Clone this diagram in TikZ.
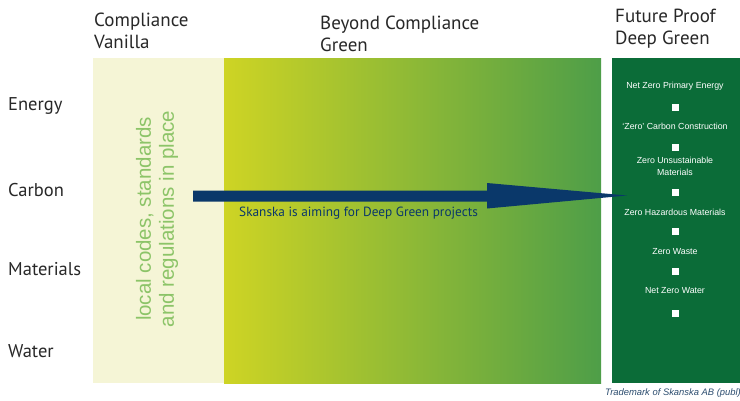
\documentclass[tikz,border=0pt]{standalone}
\usepackage{fontspec}
\setmainfont{PT Sans}
\newfontfamily\arialfont{Liberation Sans}
\definecolor{vanilla}{RGB}{245,245,214}
\definecolor{lime}{RGB}{206,212,36}
\definecolor{midgreen}{RGB}{78,158,72}
\definecolor{deepgreen}{RGB}{11,108,56}
\definecolor{navy}{RGB}{10,56,106}
\definecolor{codegreen}{RGB}{140,196,104}
\definecolor{labelgray}{RGB}{40,40,40}
\begin{document}
\begin{tikzpicture}[x=1pt,y=-1pt,
  heading/.style={anchor=west,inner sep=0pt,align=left,text=labelgray,
    font=\fontsize{19}{22}\selectfont},
  rowlabel/.style={anchor=west,inner sep=0pt,text=labelgray,
    font=\fontsize{18.5}{20}\selectfont},
  goal/.style={inner sep=0pt,align=center,text=white,
    font=\arialfont\fontsize{8.8}{12}\selectfont},
  tick/.style={fill=white,minimum size=7pt,inner sep=0pt}]
\useasboundingbox (0,0) rectangle (740,400);
\clip (0,0) rectangle (740,400);
\fill[white] (0,0) rectangle (740,400);

% the three bands
\fill[vanilla] (93,58) rectangle (224,383);
\shade[left color=lime,right color=midgreen] (224,58) rectangle (601,383);
\fill[deepgreen] (612,58) rectangle (740,383);

% column headings
\node[heading] (hvan) at (94,31) {Compliance\\Vanilla};
\node[heading] (hbey) at (320,34) {Beyond Compliance\\Green};
\node[heading] (hdeep) at (615,29) {Future Proof\\Deep Green};

% row labels
\node[rowlabel] (energy) at (8,106) {Energy};
\node[rowlabel] (carbon) at (8,190) {Carbon};
\node[rowlabel] (materials) at (8,269) {Materials};
\node[rowlabel] (water) at (8,351) {Water};

% vertical note in the vanilla band
\node[rotate=90,inner sep=0pt,align=center,text=codegreen,
  font=\arialfont\fontsize{20.5}{23}\selectfont] (codes) at (157,219)
  {local codes, standards\\and regulations in place};

% the big arrow
\fill[navy] (193,190.5) -- (487,190.5) -- (487,183) -- (627,195.5)
  -- (487,208.5) -- (487,201.5) -- (193,201.5) -- cycle;
\node[anchor=west,inner sep=0pt,text=navy,font=\fontsize{13.3}{15}\selectfont]
  (aim) at (239,213) {Skanska is aiming for Deep Green projects};

% Deep Green goals
\node[goal] (g1) at (675,86.5) {Net Zero Primary Energy};
\node[tick] (t1) at (675,107) {};
\node[goal] (g2) at (675,126.5) {‘Zero’ Carbon Construction};
\node[tick] (t2) at (675,147) {};
\node[goal] (g3) at (675,166) {Zero Unsustainable\\Materials};
\node[tick] (t3) at (675,192.5) {};
\node[goal] (g4) at (675,212) {Zero Hazardous Materials};
\node[tick] (t4) at (675,231.5) {};
\node[goal] (g5) at (675,251.5) {Zero Waste};
\node[tick] (t5) at (675,271) {};
\node[goal] (g6) at (675,290.5) {Net Zero Water};
\node[tick] (t6) at (675,313) {};

% trademark line, running off the right edge
\node[anchor=west,inner sep=0pt,text=navy!70!gray,
  font=\arialfont\itshape\fontsize{9.4}{11}\selectfont] (tm) at (605,393)
  {Trademark of Skanska AB (publ)};
\end{tikzpicture}
\end{document}
